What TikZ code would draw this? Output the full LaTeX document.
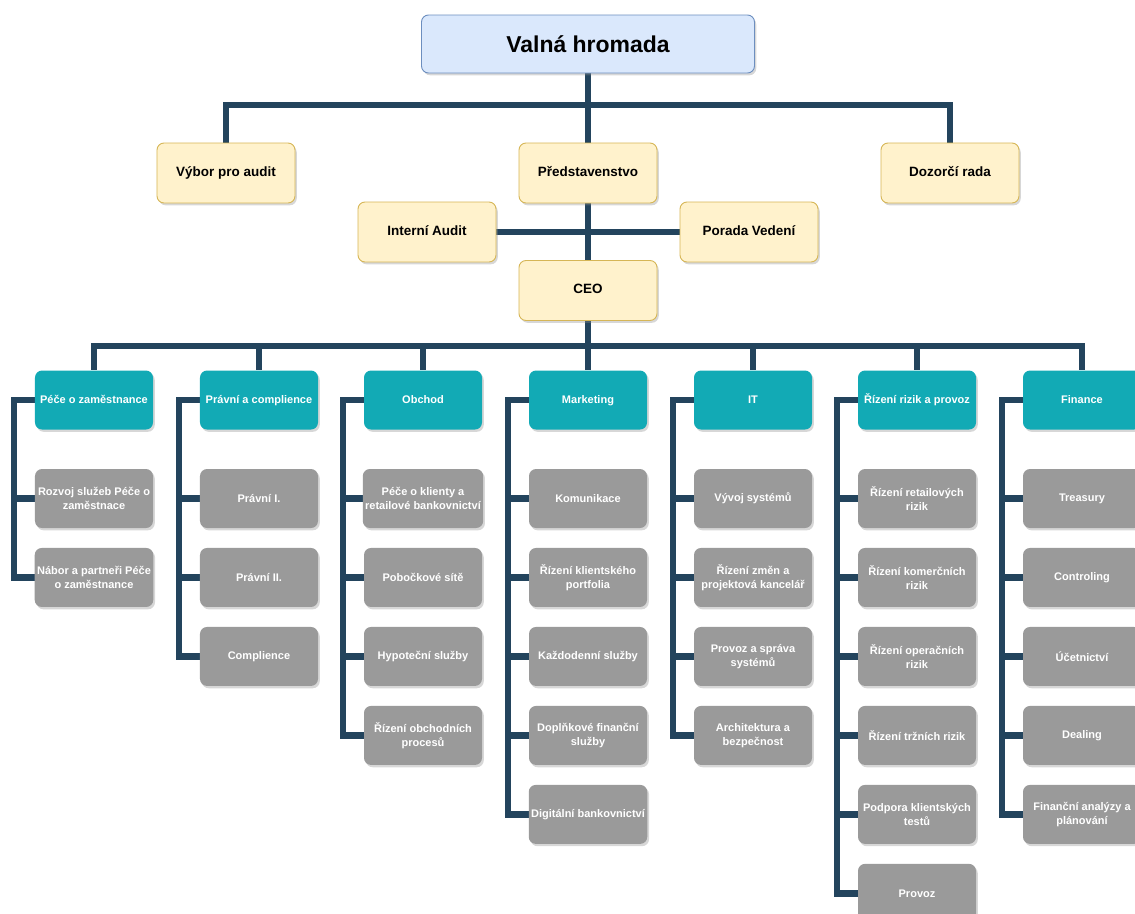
\documentclass[tikz,border=0pt]{standalone}
\usepackage{fontspec}
\setmainfont{Liberation Sans}
\usetikzlibrary{positioning}
\usetikzlibrary{shadows}
\usetikzlibrary{backgrounds}

\definecolor{busblue}{HTML}{23445D}
\definecolor{deptteal}{HTML}{12AAB5}
\definecolor{unitgray}{HTML}{9A9A9A}
\definecolor{boardfill}{HTML}{FFF2CC}
\definecolor{boardline}{HTML}{D6B656}
\definecolor{topfill}{HTML}{DAE8FC}
\definecolor{topline}{HTML}{6C8EBF}

\tikzset{
  box/.style={rounded corners=6pt, align=center, inner sep=2pt,
    drop shadow={shadow xshift=1.5pt, shadow yshift=-2pt, opacity=0.35, fill=black!45}},
  assembly/.style={box, draw=topline, fill=topfill, line width=0.8pt,
    minimum width=9.99cm, minimum height=1.74cm,
    font=\fontsize{19.6}{22}\selectfont\bfseries},
  board/.style={box, draw=boardline, fill=boardfill, line width=0.8pt,
    minimum width=4.14cm, minimum height=1.8cm, text height=1.5ex, text depth=0.4ex,
    font=\fontsize{11.5}{13.5}\selectfont\bfseries},
  dept/.style={box, fill=deptteal, text=white,
    minimum width=3.54cm, minimum height=1.77cm, text height=1.5ex, text depth=0.4ex,
    font=\fontsize{9.4}{12}\selectfont\bfseries},
  unit/.style={box, fill=unitgray, text=white,
    minimum width=3.54cm, minimum height=1.77cm,
    font=\fontsize{9.4}{12}\selectfont\bfseries},
  bus/.style={draw=busblue, line width=5.5pt, line join=miter},
}

\begin{document}
\begin{tikzpicture}[x=0.03cm, y=-0.03cm, node distance=0.585cm]
  \useasboundingbox (0,0) rectangle (1135,913);

  % top of the company
  \node[assembly] (vh) at (588,44) {Valná hromada};
  \node[board] (vpa) at (226,173) {Výbor pro audit};
  \node[board] (pr) at (588,173) {Představenstvo};
  \node[board] (dr) at (950,173) {Dozorčí rada};
  \node[board] (ia) at (427,232) {Interní Audit};
  \node[board] (pv) at (749,232) {Porada Vedení};
  \node[board] (ceo) at (588,290.5) {CEO};

  \coordinate (topbus) at (588,105);
  \coordinate (deptbus) at (588,346);

  % departments
  \node[dept] (pece) at (94,400) {Péče o zaměstnance};
  \node[dept] (pravo) at (259,400) {Právní a complience};
  \node[dept] (obchod) at (423,400) {Obchod};
  \node[dept] (mkt) at (588,400) {Marketing};
  \node[dept] (it) at (753,400) {IT};
  \node[dept] (riz) at (917,400) {Řízení rizik a provoz};
  \node[dept] (fin) at (1082,400) {Finance};

  % units of each department
  \node[unit] (pece1) at (94,498.5) {Rozvoj služeb Péče o\\zaměstnace};
  \node[unit, below=of pece1] (pece2) {Nábor a partneři Péče\\o zaměstnance};

  \node[unit] (pravo1) at (259,498.5) {Právní I.};
  \node[unit, below=of pravo1] (pravo2) {Právní II.};
  \node[unit, below=of pravo2] (pravo3) {Complience};

  \node[unit] (obchod1) at (423,498.5) {Péče o klienty a\\retailové bankovnictví};
  \node[unit, below=of obchod1] (obchod2) {Pobočkové sítě};
  \node[unit, below=of obchod2] (obchod3) {Hypoteční služby};
  \node[unit, below=of obchod3] (obchod4) {Řízení obchodních\\procesů};

  \node[unit] (mkt1) at (588,498.5) {Komunikace};
  \node[unit, below=of mkt1] (mkt2) {Řízení klientského\\portfolia};
  \node[unit, below=of mkt2] (mkt3) {Každodenní služby};
  \node[unit, below=of mkt3] (mkt4) {Doplňkové finanční\\služby};
  \node[unit, below=of mkt4] (mkt5) {Digitální bankovnictví};

  \node[unit] (it1) at (753,498.5) {Vývoj systémů};
  \node[unit, below=of it1] (it2) {Řízení změn a\\projektová kancelář};
  \node[unit, below=of it2] (it3) {Provoz a správa\\systémů};
  \node[unit, below=of it3] (it4) {Architektura a\\bezpečnost};

  \node[unit] (riz1) at (917,498.5) {Řízení retailových\\rizik};
  \node[unit, below=of riz1] (riz2) {Řízení komerčních\\rizik};
  \node[unit, below=of riz2] (riz3) {Řízení operačních\\rizik};
  \node[unit, below=of riz3] (riz4) {Řízení tržních rizik};
  \node[unit, below=of riz4] (riz5) {Podpora klientských\\testů};
  \node[unit, below=of riz5] (riz6) {Provoz};

  \node[unit] (fin1) at (1082,498.5) {Treasury};
  \node[unit, below=of fin1] (fin2) {Controling};
  \node[unit, below=of fin2] (fin3) {Účetnictví};
  \node[unit, below=of fin3] (fin4) {Dealing};
  \node[unit, below=of fin4] (fin5) {Finanční analýzy a\\plánování};

  \begin{scope}[on background layer]
    % board level
    \draw[bus] (vh.south) -- (topbus);
    \draw[bus] (vpa.north) |- (topbus) -| (dr.north);
    \draw[bus] (topbus) -- (pr.north);
    \draw[bus] (pr.south) -- (ceo.north);
    \draw[bus] (ia.east) -- (pv.west);

    % departments
    \draw[bus] (ceo.south) -- (deptbus);
    \foreach \d in {pece,pravo,obchod,mkt,it,riz,fin}
      \draw[bus] (deptbus) -| (\d.north);

    % units
    \foreach \d/\u in {pece/pece1, pece/pece2,
        pravo/pravo1, pravo/pravo2, pravo/pravo3,
        obchod/obchod1, obchod/obchod2, obchod/obchod3, obchod/obchod4,
        mkt/mkt1, mkt/mkt2, mkt/mkt3, mkt/mkt4, mkt/mkt5,
        it/it1, it/it2, it/it3, it/it4,
        riz/riz1, riz/riz2, riz/riz3, riz/riz4, riz/riz5, riz/riz6,
        fin/fin1, fin/fin2, fin/fin3, fin/fin4, fin/fin5}
      \draw[bus] (\d.west) -- ++(-21,0) |- (\u.west);
  \end{scope}
\end{tikzpicture}
\end{document}
